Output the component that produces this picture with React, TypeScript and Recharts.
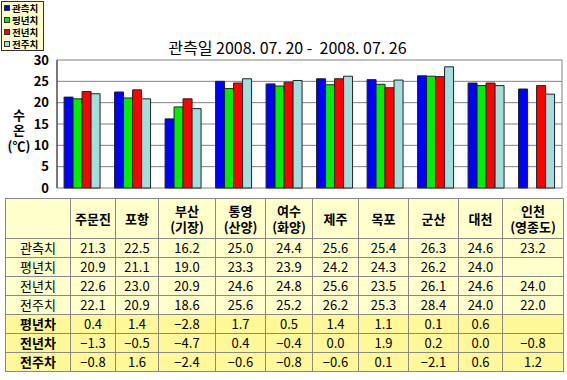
import React from "react";
import { BarChart, Bar, XAxis, YAxis, CartesianGrid, Label } from "recharts";

const categories = ["주문진", "포항", "부산(기장)", "통영(산양)", "여수(화양)", "제주", "목포", "군산", "대천", "인천(영종도)"];
const headerLines = [["주문진"], ["포항"], ["부산", "(기장)"], ["통영", "(산양)"], ["여수", "(화양)"], ["제주"], ["목포"], ["군산"], ["대천"], ["인천", "(영종도)"]];
const observed = [21.3, 22.5, 16.2, 25.0, 24.4, 25.6, 25.4, 26.3, 24.6, 23.2];
const normal = [20.9, 21.1, 19.0, 23.3, 23.9, 24.2, 24.3, 26.2, 24.0, null];
const lastYear = [22.6, 23.0, 20.9, 24.6, 24.8, 25.6, 23.5, 26.1, 24.6, 24.0];
const lastWeek = [22.1, 20.9, 18.6, 25.6, 25.2, 26.2, 25.3, 28.4, 24.0, 22.0];
const diffNormal = [0.4, 1.4, -2.8, 1.7, 0.5, 1.4, 1.1, 0.1, 0.6, null];
const diffYear = [-1.3, -0.5, -4.7, 0.4, -0.4, 0.0, 1.9, 0.2, 0.0, -0.8];
const diffWeek = [-0.8, 1.6, -2.4, -0.6, -0.8, -0.6, 0.1, -2.1, 0.6, 1.2];
const yTicks = [0, 5, 10, 15, 20, 25, 30];
const seriesNames = ["관측치", "평년치", "전년치", "전주치"];
const diffNames = ["평년차", "전년차", "전주차"];
const title = "관측일 2008. 07. 20 -  2008. 07. 26";

const chartData = categories.map((name, i) => ({
  name,
  obs: observed[i],
  nor: normal[i],
  ly: lastYear[i],
  lw: lastWeek[i],
}));

const colors = ["#0000FF", "#00EE00", "#FF0000", "#A3DDDD"];
const FONT = "'Noto Sans CJK KR', 'DejaVu Sans', sans-serif";

const fmt = (v: number | null) => (v === null ? "" : v.toFixed(1).replace("-", "−"));

const LegendBox = () => (
  <div
    style={{
      position: "absolute",
      left: 1,
      top: 1,
      background: "#FFFFCC",
      border: "1px solid #333",
      padding: "0px 2px",
      width: 37,
      fontFamily: FONT,
      fontSize: 9.5,
      fontWeight: "bold",
      lineHeight: "12px",
      color: "#000",
      zIndex: 2,
    }}
  >
    {seriesNames.map((n, i) => (
      <div key={n} style={{ display: "flex", alignItems: "center", whiteSpace: "nowrap", height: 12 }}>
        <span
          style={{
            display: "inline-block",
            width: 4,
            height: 4,
            background: colors[i],
            border: "1px solid #333",
            marginRight: 2,
          }}
        />
        {n}
      </div>
    ))}
  </div>
);

const YLabel = (props: any) => {
  const vb = props.viewBox || { x: 0, y: 60, width: 57, height: 128 };
  const cx = vb.x + 19;
  const cy = vb.y + vb.height / 2;
  const st = { fontSize: 13, fontWeight: "bold" as const, fill: "#000", fontFamily: FONT };
  return (
    <g>
      <text x={cx} y={cy - 8} textAnchor="middle" dominantBaseline="middle" {...st}>수</text>
      <text x={cx} y={cy + 7} textAnchor="middle" dominantBaseline="middle" {...st}>온</text>
      <text x={cx} y={cy + 23} textAnchor="middle" dominantBaseline="middle" {...st}>(℃)</text>
    </g>
  );
};

const colWidths = [65, 45, 43, 57, 50, 47, 46, 50, 50, 44, 61];

export default function App() {
  const cellBase: React.CSSProperties = {
    border: "1px solid #888",
    textAlign: "center",
    padding: 0,
    height: 18,
    lineHeight: "16px",
    fontSize: 13,
  };
  const valueRows = [observed, normal, lastYear, lastWeek];
  const diffRows = [diffNormal, diffYear, diffWeek];
  return (
    <div style={{ position: "absolute", left: 0, top: 0, width: 567, height: 380, background: "#fff", fontFamily: FONT }}>
      <LegendBox />
      <div
        style={{
          position: "absolute",
          left: 155,
          top: 37,
          width: 265,
          textAlign: "center",
          fontSize: 16,
          whiteSpace: "pre",
          color: "#000",
          lineHeight: "20px",
          zIndex: 2,
        }}
      >
        {title}
      </div>
      <BarChart
        width={567}
        height={197}
        data={chartData}
        margin={{ top: 60, right: 5, left: 0, bottom: 9 }}
        barCategoryGap="14%"
        barGap={0}
      >
        <CartesianGrid
          stroke="#808080"
          fill="#fff"
          verticalCoordinatesGenerator={(args: any) => [args.offset.left, args.offset.left + args.offset.width]}
        />
        <XAxis dataKey="name" hide />
        <YAxis
          width={57}
          domain={[0, 30]}
          ticks={yTicks}
          interval={0}
          tickLine={false}
          axisLine={{ stroke: "#333" }}
          tick={{ fontSize: 13, fill: "#000", fontWeight: "bold", fontFamily: FONT }}
        >
          <Label content={<YLabel />} />
        </YAxis>
        <Bar dataKey="obs" name={seriesNames[0]} fill={colors[0]} stroke="#222" isAnimationActive={false} />
        <Bar dataKey="nor" name={seriesNames[1]} fill={colors[1]} stroke="#222" isAnimationActive={false} />
        <Bar dataKey="ly" name={seriesNames[2]} fill={colors[2]} stroke="#222" isAnimationActive={false} />
        <Bar dataKey="lw" name={seriesNames[3]} fill={colors[3]} stroke="#222" isAnimationActive={false} />
      </BarChart>
      <table
        style={{
          position: "absolute",
          left: 5,
          top: 198,
          width: 558,
          borderCollapse: "collapse",
          tableLayout: "fixed",
          border: "1px solid #444",
          fontFamily: FONT,
          color: "#000",
        }}
      >
        <colgroup>
          {colWidths.map((w, i) => (
            <col key={i} style={{ width: w }} />
          ))}
        </colgroup>
        <tbody>
          <tr style={{ background: "#FFFFCC" }}>
            <td style={{ ...cellBase, height: 39 }} />
            {headerLines.map((lines, i) => (
              <td key={i} style={{ ...cellBase, height: 39, fontWeight: "bold", lineHeight: "16px" }}>
                {lines.map((l, j) => (
                  <div key={j}>{l}</div>
                ))}
              </td>
            ))}
          </tr>
          {valueRows.map((row, r) => (
            <tr key={r} style={{ background: "#FFFFCC" }}>
              <td style={cellBase}>{seriesNames[r]}</td>
              {row.map((v, i) => (
                <td key={i} style={cellBase}>{fmt(v)}</td>
              ))}
            </tr>
          ))}
          {diffRows.map((row, r) => (
            <tr key={r} style={{ background: "#FFF899" }}>
              <td style={{ ...cellBase, fontWeight: "bold" }}>{diffNames[r]}</td>
              {row.map((v, i) => (
                <td key={i} style={cellBase}>{fmt(v)}</td>
              ))}
            </tr>
          ))}
        </tbody>
      </table>
    </div>
  );
}
